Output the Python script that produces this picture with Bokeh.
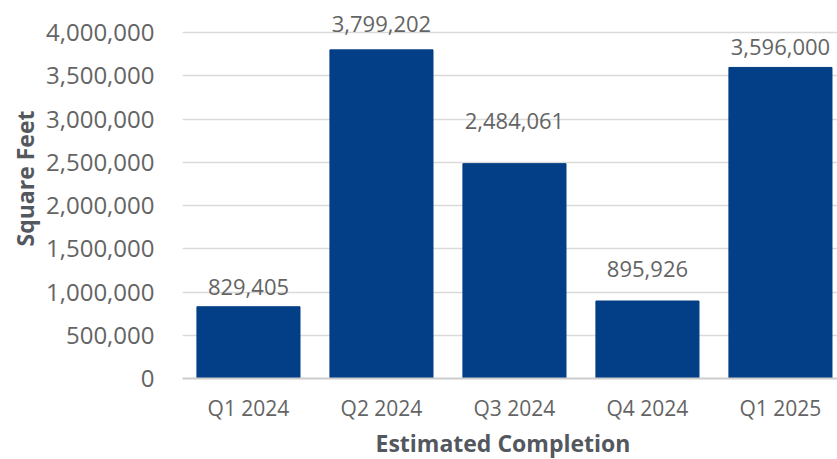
import numpy as np
from bokeh.plotting import figure
from bokeh.models import ColumnDataSource, Range1d, FixedTicker, NumeralTickFormatter, Title
from bokeh.core.properties import value
from bokeh.embed import file_html
from bokeh.resources import INLINE

# ---- data ----
quarters = ["Q1 2024", "Q2 2024", "Q3 2024", "Q4 2024", "Q1 2025"]
square_feet = [829405, 3799202, 2484061, 895926, 3596000]
y_ticks = [0, 500000, 1000000, 1500000, 2000000, 2500000, 3000000, 3500000, 4000000]
y_title = "Square Feet"
x_title = "Estimated Completion"

# ---- style ----
FONT = "Open Sans"
BAR = "#023F87"
TICK_COLOR = "#646464"
TITLE_COLOR = "#53575e"
label_lift = [20, 26, 43, 32, 20]   # px gap between bar top and value label

W, H = 837, 459
LEFT, BOTTOM = 182, 81
X0, X1 = -0.496, 4.429
Y0, Y1 = 0, 4.37e6

idx = list(range(len(quarters)))
src = ColumnDataSource(dict(x=idx, top=square_feet,
                            label=[f"{v:,}" for v in square_feet],
                            off=[-d for d in label_lift]))

p = figure(width=W, height=H, output_backend="svg", toolbar_location=None,
           x_range=Range1d(X0, X1), y_range=Range1d(Y0, Y1),
           min_border_left=LEFT, min_border_right=0, min_border_top=0,
           min_border_bottom=BOTTOM)
p.outline_line_color = None
p.background_fill_color = "white"
p.border_fill_color = "white"

p.vbar(x="x", top="top", width=0.775, source=src, fill_color=BAR, line_color=BAR)
p.text(x="x", y="top", text="label", source=src, text_align="center",
       text_baseline="alphabetic", y_offset="off", text_font=value(FONT),
       text_font_size="22px", text_color=TICK_COLOR)

# y axis
p.yaxis.ticker = FixedTicker(ticks=y_ticks)
p.yaxis.formatter = NumeralTickFormatter(format="0,0")
p.yaxis.axis_line_color = None
p.yaxis.major_tick_line_color = None
p.yaxis.minor_tick_line_color = None
p.yaxis.major_label_standoff = 22
p.yaxis.major_label_text_font = FONT
p.yaxis.major_label_text_font_size = "24px"
p.yaxis.major_label_text_color = TICK_COLOR

# x axis
p.xaxis.ticker = FixedTicker(ticks=idx)
p.xaxis.major_label_overrides = {i: q for i, q in zip(idx, quarters)}
p.xaxis.axis_line_color = "#cccccc"
p.xaxis.axis_line_width = 2
p.xaxis.major_tick_line_color = None
p.xaxis.minor_tick_line_color = None
p.xaxis.major_label_standoff = 9
p.xaxis.major_label_text_font = FONT
p.xaxis.major_label_text_font_size = "21px"
p.xaxis.major_label_text_color = TICK_COLOR

p.xgrid.grid_line_color = None
p.ygrid.grid_line_color = "#dadada"
p.ygrid.grid_line_width = 1.5

# axis titles
p.add_layout(Title(text=y_title, align="right", offset=110, text_font=FONT,
                   text_font_size="23px", text_font_style="bold",
                   text_color=TITLE_COLOR, standoff=6), "left")
p.add_layout(Title(text=x_title, align="left", offset=193, text_font=FONT,
                   text_font_size="23px", text_font_style="bold",
                   text_color=TITLE_COLOR, standoff=0), "below")

open("out.html", "w").write(file_html(p, INLINE))
